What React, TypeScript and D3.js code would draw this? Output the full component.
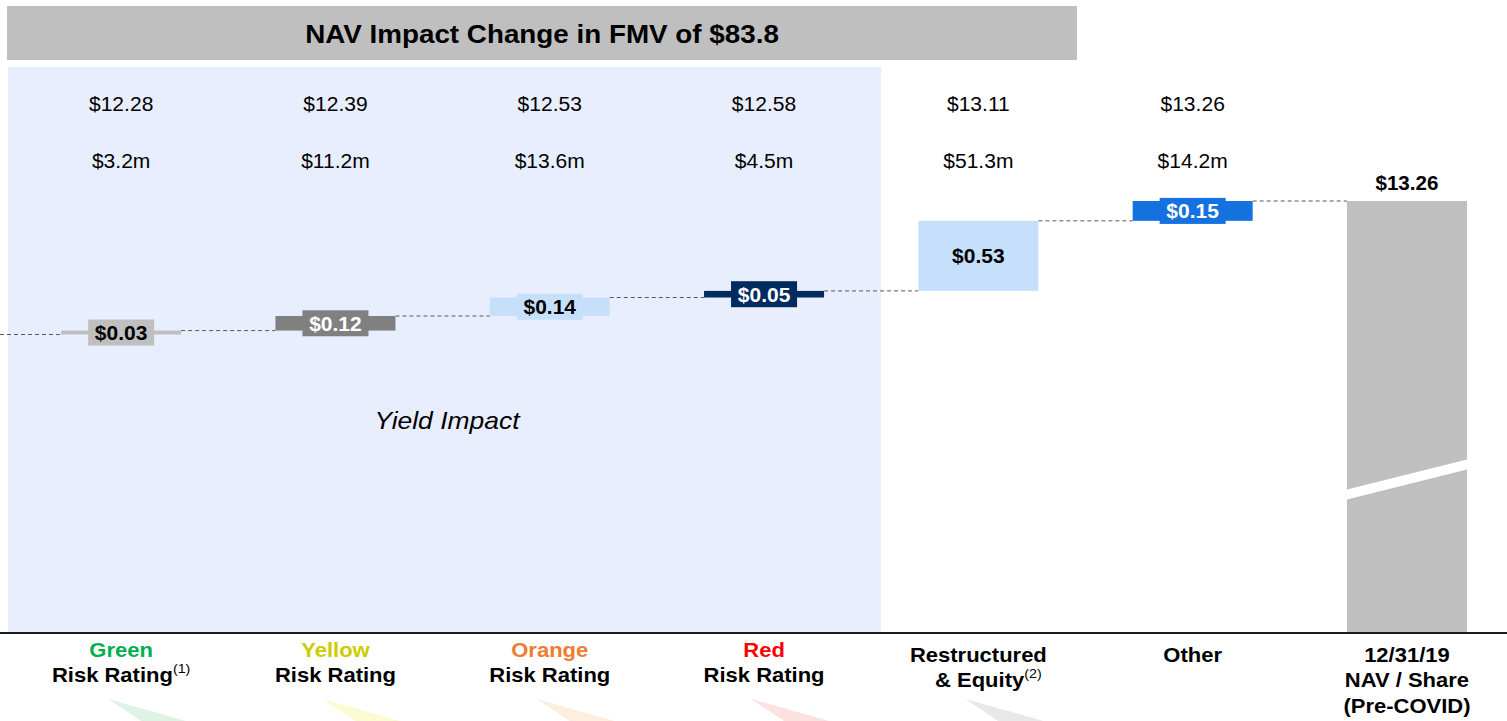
import React from 'react';
import * as d3 from 'd3';

// waterfall data read off the slide
const categories = ['green', 'yellow', 'orange', 'red', 'restructured', 'other', 'nav'];
const startNav = 12.25;
const navAfter = [12.28, 12.39, 12.53, 12.58, 13.11, 13.26];
const impacts = [0.03, 0.12, 0.14, 0.05, 0.53, 0.15];
const fmvChange = [3.2, 11.2, 13.6, 4.5, 51.3, 14.2];
const finalNav = 13.26;
const riskNames = ['Green', 'Yellow', 'Orange', 'Red'];

const barColors = ['#bfbfbf', '#808080', '#c6e0fb', '#002b5f', '#c6e0fb', '#1570e0', '#bfbfbf'];
const labelColors = ['#000', '#fff', '#000', '#fff', '#000', '#fff'];
const headColors = ['#00b050', '#cccc00', '#ed7d31', '#ff0000'];
const wedgeColors = ['#dff3e5', '#fbfbd2', '#fdeede', '#fde0e0', '#e8e8e8'];

const W = 1507;
const H = 721;
const FONT = '"Liberation Sans", Arial, Helvetica, sans-serif';

// the slide text is a bit wider than plain Arial, so stretch it sideways
const T = ({ x, y, sx = 1, size, bold = false, italic = false, fill = '#000', children }: any) => (
  <g transform={`translate(${x},${y}) scale(${sx},1)`}>
    <text x={0} y={0} textAnchor="middle" fontSize={size}
      fontWeight={bold ? 'bold' : 'normal'} fontStyle={italic ? 'italic' : 'normal'} fill={fill}>
      {children}
    </text>
  </g>
);

const App = () => {
  const x = d3.scaleBand<string>()
    .domain(categories)
    .range([14, 14 + 214.3 * 7])
    .paddingInner(0.44)
    .paddingOuter(0.22);

  const y = d3.scaleLinear()
    .domain([10.0, finalNav])
    .range([632, 201]);

  const bw = x.bandwidth();
  const cx = (c: string) => (x(c) as number) + bw / 2;
  const fmt = d3.format('$.2f');

  const prev = [startNav, ...navAfter.slice(0, -1)];
  const lastX = x(categories[6]) as number;

  const bTop = y(finalNav);
  const base = y(10.0);

  return (
    <div style={{ position: 'absolute', left: 0, top: 0 }}>
      <svg width={W} height={H} style={{ display: 'block', fontFamily: FONT }}>
        <rect x={0} y={0} width={W} height={H} fill="#fff" />

        {/* header banner */}
        <rect x={7} y={6} width={1070} height={54} fill="#bfbfbf" />
        <T x={542} y={43} sx={1.07} size={26} bold>NAV Impact Change in FMV of $83.8</T>

        {/* yield impact shaded zone */}
        <rect x={8} y={67} width={873} height={base - 67} fill="#e8eefd" />
        <T x={447} y={429} sx={1.15} size={23} italic>Yield Impact</T>

        {/* top rows */}
        {navAfter.map((v, i) => (
          <g key={'top' + i}>
            <T x={cx(categories[i])} y={111} sx={1.08} size={19.5}>{fmt(v)}</T>
            <T x={cx(categories[i])} y={168} sx={1.08} size={19.5}>
              {'$' + fmvChange[i].toFixed(1) + 'm'}
            </T>
          </g>
        ))}

        {/* connectors */}
        <line x1={0} x2={x(categories[0]) as number} y1={y(startNav)} y2={y(startNav)}
          stroke="#595959" strokeDasharray="4,3" />
        {navAfter.map((v, i) => (
          <line key={'c' + i}
            x1={(x(categories[i]) as number) + bw}
            x2={x(categories[i + 1]) as number}
            y1={y(v)} y2={y(v)}
            stroke="#595959" strokeDasharray="4,3" />
        ))}

        {/* floating bars */}
        {navAfter.map((v, i) => {
          const y0 = y(prev[i]);
          const y1 = y(v);
          const mid = (y0 + y1) / 2;
          return (
            <g key={'b' + i}>
              <rect x={x(categories[i]) as number} y={Math.min(y0, y1)} width={bw}
                height={Math.max(2, Math.abs(y0 - y1))} fill={barColors[i]} />
              <rect x={cx(categories[i]) - 33} y={mid - 13} width={66} height={26} fill={barColors[i]} />
              <T x={cx(categories[i])} y={mid + 7.5} size={21} bold fill={labelColors[i]}>
                {fmt(impacts[i])}
              </T>
            </g>
          );
        })}

        {/* final NAV bar with axis break */}
        <rect x={lastX} y={bTop} width={bw} height={base - bTop} fill={barColors[6]} />
        <polygon
          points={`${lastX - 2},${490} ${lastX + bw + 2},${459} ${lastX + bw + 2},${469} ${lastX - 2},${500}`}
          fill="#fff" />
        <T x={cx(categories[6])} y={190} sx={1.03} size={20} bold>{fmt(finalNav)}</T>

        {/* baseline */}
        <line x1={0} x2={W} y1={base + 1} y2={base + 1} stroke="#1a1a1a" strokeWidth={2} />

        {/* faint decorative wedges */}
        {[0, 1, 2, 3, 4].map((i) => {
          const c = cx(categories[i]);
          return (
            <polygon key={'w' + i}
              points={`${c - 13},${699} ${c + 65},${721} ${c + 20},${721}`}
              fill={wedgeColors[i]} />
          );
        })}

        {/* category labels */}
        {headColors.map((col, i) => (
          <g key={'lab' + i}>
            <T x={cx(categories[i])} y={657} sx={1.1} size={20} bold fill={col}>{riskNames[i]}</T>
            <T x={cx(categories[i]) + (i === 0 ? 0 : 0)} y={682} sx={1.1} size={20} bold>
              Risk Rating
              {i === 0 && <tspan fontSize={13} fontWeight="normal" dy={-9}>(1)</tspan>}
            </T>
          </g>
        ))}
        <T x={cx(categories[4])} y={662} sx={1.1} size={20} bold>Restructured</T>
        <T x={cx(categories[4]) + 10} y={687} sx={1.1} size={20} bold>
          & Equity
          <tspan fontSize={13} fontWeight="normal" dy={-9}>(2)</tspan>
        </T>
        <T x={cx(categories[5])} y={662} sx={1.1} size={20} bold>Other</T>
        <T x={cx(categories[6])} y={662} sx={1.1} size={20} bold>12/31/19</T>
        <T x={cx(categories[6])} y={687} sx={1.1} size={20} bold>NAV / Share</T>
        <T x={cx(categories[6])} y={713} sx={1.1} size={20} bold>(Pre-COVID)</T>
      </svg>
    </div>
  );
};

export default App;
